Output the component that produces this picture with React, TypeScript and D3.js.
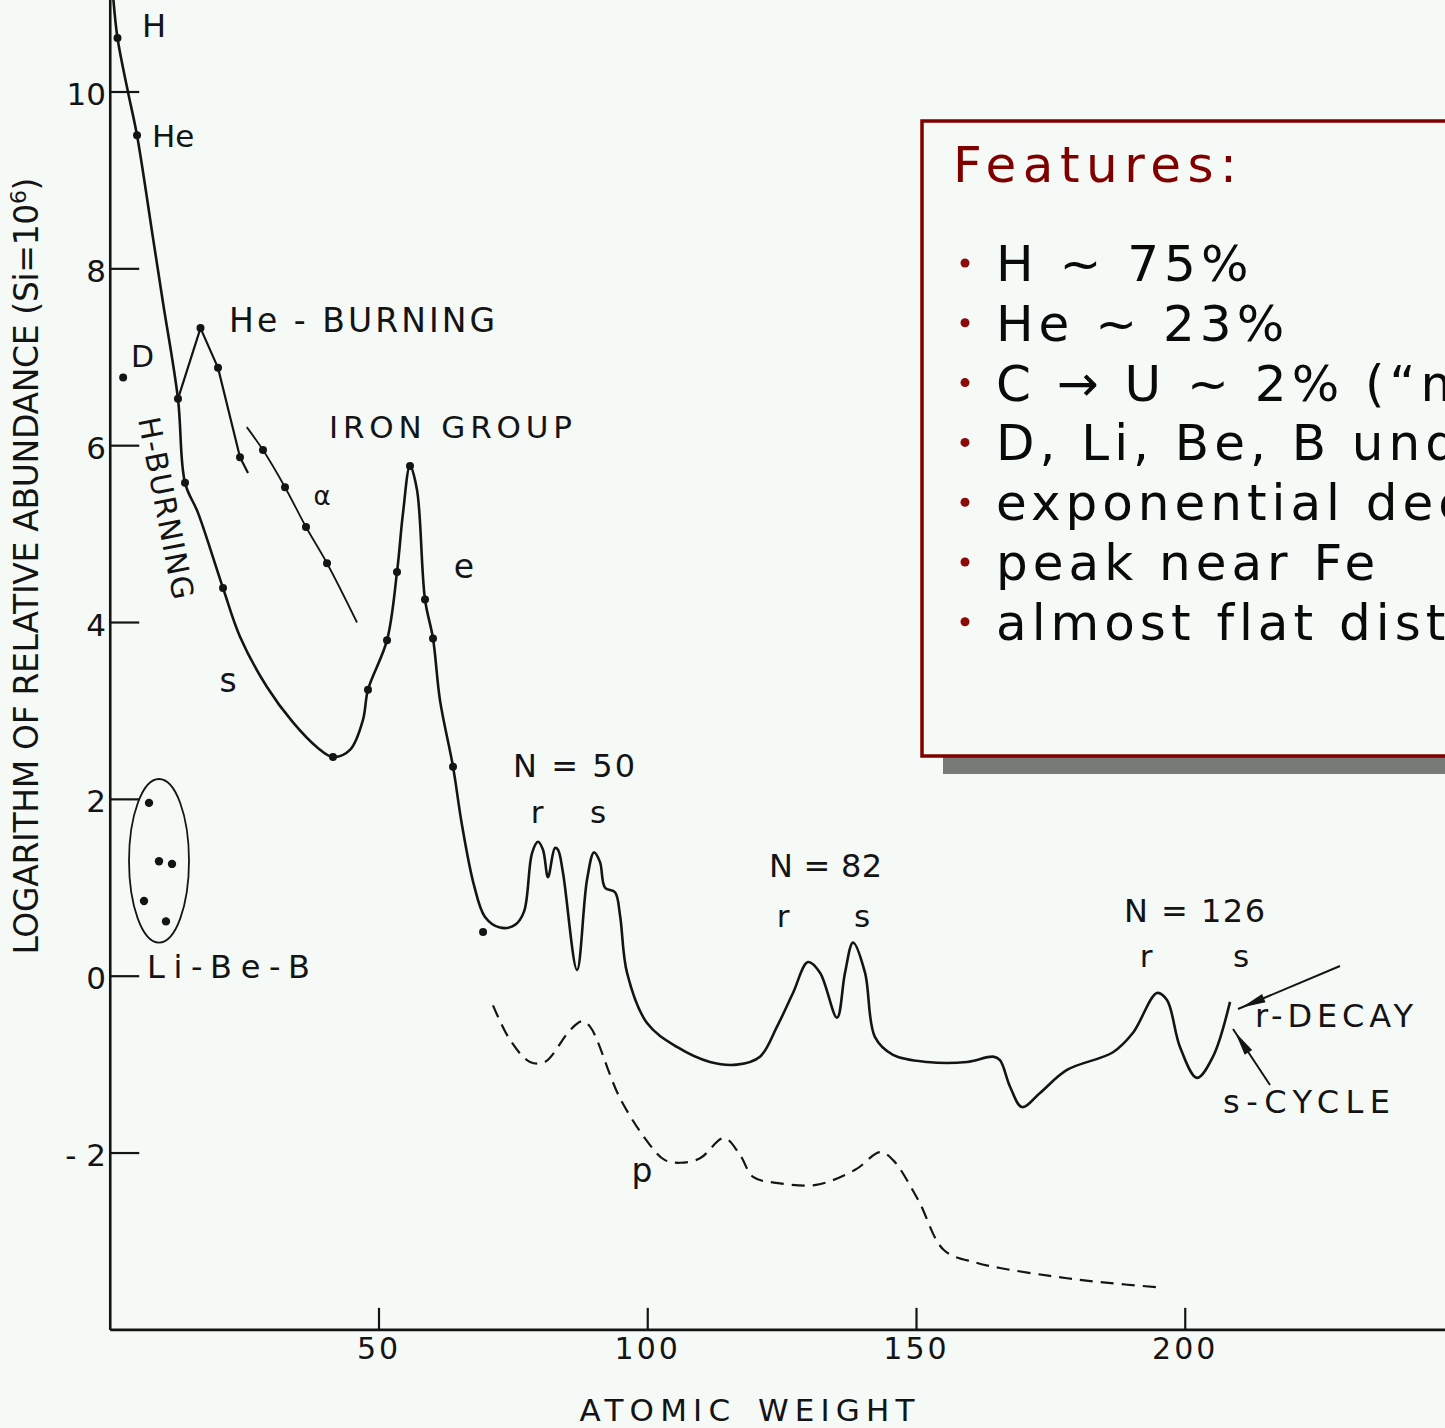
import React from "react";
import * as d3 from "d3";

const WIDTH = 1445;
const HEIGHT = 1428;
const BG = "#f6faf7";
const INK = "#141414";
const BOX_RED = "#800000";
const FONT = "'DejaVu Sans', 'Liberation Sans', sans-serif";

// [atomic weight, log10 abundance (Si = 10^6)]
const mainCurve: [number, number][] = [
  [0.51, 11.1], [1.35, 10.61], [3.3, 10.0], [4.98, 9.51], [7.95, 8.35], [9.81, 7.62],
  [12.6, 6.53], [13.91, 5.58], [16.33, 5.24], [20.98, 4.39], [24.14, 3.84], [29.16, 3.27],
  [34.0, 2.87], [38.47, 2.59], [41.44, 2.48], [44.6, 2.56], [47.02, 2.9], [47.95, 3.24],
  [51.49, 3.8], [53.35, 4.57], [54.47, 5.24], [55.77, 5.77], [57.07, 5.5], [58.56, 4.26],
  [60.05, 3.82], [61.35, 3.12], [63.77, 2.37], [65.44, 1.71], [67.67, 1.03], [69.72, 0.67],
  [72.51, 0.55], [75.3, 0.58], [76.98, 0.73], [78.46, 1.39], [79.58, 1.52], [80.51, 1.43],
  [81.44, 1.12], [82.74, 1.45], [83.3, 1.43], [84.23, 1.17], [86.84, 0.07], [88.7, 1.09],
  [90.0, 1.4], [91.12, 1.29], [92.05, 1.0], [93.91, 0.95], [94.84, 0.69], [96.14, 0.04],
  [99.86, -0.53], [105.44, -0.8], [111.58, -0.97], [116.6, -1.0], [120.88, -0.91],
  [124.05, -0.57], [127.02, -0.19], [129.81, 0.16], [132.05, 0.04], [135.21, -0.47],
  [136.7, 0.04], [138.19, 0.38], [140.42, 0.04], [142.28, -0.69], [145.63, -0.89],
  [151.95, -0.97], [159.4, -0.97], [164.23, -0.91], [165.53, -0.95], [167.4, -1.25],
  [169.63, -1.48], [172.98, -1.32], [178.0, -1.06], [186.56, -0.86], [190.28, -0.64],
  [194.74, -0.19], [196.6, -0.27], [199.02, -0.8], [202.18, -1.15], [205.16, -0.91],
  [208.33, -0.29],
];

const heBurning: [number, number][] = [
  [12.6, 6.53], [16.79, 7.33], [20.05, 6.88], [24.14, 5.87], [25.63, 5.69],
];

const alphaProcess: [number, number][] = [
  [25.4, 6.21], [28.42, 5.95], [32.51, 5.53], [36.42, 5.08], [40.33, 4.67], [45.91, 4.0],
];

const pProcess: [number, number][] = [
  [71.21, -0.33], [74.37, -0.72], [78.09, -0.97], [80.88, -0.97], [85.53, -0.61],
  [87.77, -0.51], [89.26, -0.57], [94.84, -1.38], [100.42, -1.91], [103.21, -2.08],
  [106.0, -2.11], [109.72, -2.06], [114.19, -1.83], [117.16, -2.02], [119.6, -2.27],
  [124.25, -2.34], [131.32, -2.36], [138.58, -2.19], [143.23, -1.99], [145.65, -2.08],
  [150.3, -2.53], [155.14, -3.1], [161.09, -3.24], [165.53, -3.3], [174.84, -3.39],
  [184.14, -3.46], [195.3, -3.52],
];

const measuredPoints: [number, number][] = [
  [1.35, 10.61], [4.98, 9.51], [2.4, 6.77], [12.6, 6.53], [13.91, 5.58], [20.98, 4.39],
  [41.44, 2.48], [47.95, 3.24], [51.49, 3.8], [53.35, 4.57], [55.77, 5.77], [58.56, 4.26],
  [60.05, 3.82], [63.77, 2.37], [69.36, 0.5],
  [16.79, 7.33], [20.05, 6.88], [24.14, 5.87],
  [28.42, 5.95], [32.51, 5.53], [36.42, 5.08], [40.33, 4.67],
];

const liBeB: [number, number][] = [
  [7.21, 1.96], [9.07, 1.3], [11.49, 1.27], [6.28, 0.85], [10.37, 0.62],
];
// extent of the Li-Be-B group outline: [minA, maxA, minLog, maxLog]
const liBeBEnvelope = [3.49, 14.65, 0.38, 2.23];

const yTicks = [-2, 0, 2, 4, 6, 8, 10];
const yTickLabels = ["- 2", "0", "2", "4", "6", "8", "10"];
const xTicks = [50, 100, 150, 200];

const featureTitle = "Features:";
const features = [
  "H ~ 75%",
  "He ~ 23%",
  "C \u2192 U ~ 2% (\u201cmetals\u201d)",
  "D, Li, Be, B underabundant",
  "exponential decrease",
  "peak near Fe",
  "almost flat distribution",
];

type Label = { t: string; x: number; y: number; size: number; len?: number; anchor?: string };
const labels: Label[] = [
  { t: "H", x: 142, y: 37, size: 32 },
  { t: "He", x: 152, y: 147, size: 31 },
  { t: "D", x: 131, y: 367, size: 30 },
  { t: "He - BURNING", x: 229, y: 332, size: 33, len: 266 },
  { t: "IRON GROUP", x: 329, y: 438, size: 31, len: 243 },
  { t: "\u03b1", x: 322, y: 505, size: 26, anchor: "middle" },
  { t: "e", x: 464, y: 578, size: 33, anchor: "middle" },
  { t: "s", x: 228, y: 692, size: 33, anchor: "middle" },
  { t: "N = 50", x: 513, y: 777, size: 32, len: 122 },
  { t: "r", x: 537, y: 823, size: 31, anchor: "middle" },
  { t: "s", x: 598, y: 823, size: 31, anchor: "middle" },
  { t: "N = 82", x: 769, y: 877, size: 32, len: 113 },
  { t: "r", x: 783, y: 927, size: 31, anchor: "middle" },
  { t: "s", x: 862, y: 927, size: 31, anchor: "middle" },
  { t: "N = 126", x: 1124, y: 922, size: 32, len: 141 },
  { t: "r", x: 1146, y: 967, size: 31, anchor: "middle" },
  { t: "s", x: 1241, y: 967, size: 31, anchor: "middle" },
  { t: "r-DECAY", x: 1255, y: 1027, size: 32, len: 158 },
  { t: "s-CYCLE", x: 1223, y: 1113, size: 32, len: 167 },
  { t: "p", x: 642, y: 1182, size: 33, anchor: "middle" },
  { t: "Li-Be-B", x: 147, y: 978, size: 32, len: 163 },
];

const arrows = [
  { from: [1340, 966], to: [1238, 1009] },
  { from: [1270, 1085], to: [1233, 1029] },
];

// 88.42 px per decade; log 0 sits at 976.2 px
const x = d3.scaleLinear().domain([0, 250]).range([110.25, 1454]);
const y = d3.scaleLinear().domain([-4, 11]).range([976.2 + 4 * 88.42, 976.2 - 11 * 88.42]);

const smooth = d3
  .line<[number, number]>()
  .x((d) => x(d[0]))
  .y((d) => y(d[1]))
  .curve(d3.curveCatmullRom.alpha(0.5));

const straight = d3
  .line<[number, number]>()
  .x((d) => x(d[0]))
  .y((d) => y(d[1]));

function arrowHead(from: number[], to: number[]) {
  const dx = to[0] - from[0];
  const dy = to[1] - from[1];
  const L = Math.hypot(dx, dy);
  const ux = dx / L;
  const uy = dy / L;
  const len = 24;
  const hw = 4.5;
  const tip = [to[0] - ux * 4, to[1] - uy * 4];
  const bx = tip[0] - ux * len;
  const by = tip[1] - uy * len;
  return `${tip[0]},${tip[1]} ${bx - uy * hw},${by + ux * hw} ${bx + uy * hw},${by - ux * hw}`;
}

export default function App() {
  const x0 = x(0);
  const yBottom = y(-4);
  const [a0, a1, v0, v1] = liBeBEnvelope;
  const ecx = (x(a0) + x(a1)) / 2;
  const ecy = (y(v0) + y(v1)) / 2;
  const erx = (x(a1) - x(a0)) / 2;
  const ery = (y(v0) - y(v1)) / 2;

  return (
    <svg
      width={WIDTH}
      height={HEIGHT}
      viewBox={`0 0 ${WIDTH} ${HEIGHT}`}
      style={{ position: "absolute", left: 0, top: 0, display: "block" }}
      fontFamily={FONT}
    >
      <rect x={0} y={0} width={WIDTH} height={HEIGHT} fill={BG} />

      {/* axes */}
      <line x1={x0} y1={0} x2={x0} y2={yBottom} stroke={INK} strokeWidth={2.6} />
      <line x1={x0} y1={yBottom} x2={WIDTH} y2={yBottom} stroke={INK} strokeWidth={2.6} />
      {yTicks.map((v, i) => (
        <g key={`yt${v}`}>
          <line x1={x0} x2={x0 + 29} y1={y(v)} y2={y(v)} stroke={INK} strokeWidth={2.2} />
          <text
            x={106}
            y={y(v) + 2}
            textAnchor="end"
            dominantBaseline="central"
            fontSize={31}
            fill={INK}
          >
            {yTickLabels[i]}
          </text>
        </g>
      ))}
      {xTicks.map((t) => (
        <g key={`xt${t}`}>
          <line x1={x(t)} x2={x(t)} y1={yBottom} y2={yBottom - 22} stroke={INK} strokeWidth={2.2} />
          <text x={x(t)} y={1359} textAnchor="middle" fontSize={30} letterSpacing={3} fill={INK}>
            {t}
          </text>
        </g>
      ))}
      <text x={747} y={1421} textAnchor="middle" fontSize={31} textLength={335} lengthAdjust="spacing" fill={INK}>
        {"ATOMIC\u2002WEIGHT"}
      </text>
      <text
        transform="translate(38,566) rotate(-90)"
        textAnchor="middle"
        fontSize={33}
        textLength={777}
        lengthAdjust="spacing"
        fill={INK}
      >
        LOGARITHM OF RELATIVE ABUNDANCE (Si=10
        <tspan dy={-12} fontSize={22}>6</tspan>
        <tspan dy={12}>)</tspan>
      </text>

      {/* abundance curves */}
      <path d={smooth(mainCurve) ?? ""} fill="none" stroke={INK} strokeWidth={2.6} strokeLinejoin="round" />
      <path d={straight(heBurning) ?? ""} fill="none" stroke={INK} strokeWidth={2.2} strokeLinejoin="round" />
      <path d={smooth(alphaProcess) ?? ""} fill="none" stroke={INK} strokeWidth={1.8} />
      <path d={smooth(pProcess) ?? ""} fill="none" stroke={INK} strokeWidth={2.2} strokeDasharray="13 8" />
      {measuredPoints.map((d, i) => (
        <circle key={`m${i}`} cx={x(d[0])} cy={y(d[1])} r={4} fill={INK} />
      ))}
      <ellipse cx={ecx} cy={ecy} rx={erx} ry={ery} fill="none" stroke={INK} strokeWidth={1.8} />
      {liBeB.map((d, i) => (
        <circle key={`l${i}`} cx={x(d[0])} cy={y(d[1])} r={4.2} fill={INK} />
      ))}

      {/* annotations */}
      {labels.map((l, i) => (
        <text
          key={`lb${i}`}
          x={l.x}
          y={l.y}
          fontSize={l.size}
          textAnchor={l.anchor ?? "start"}
          textLength={l.len}
          lengthAdjust={l.len ? "spacing" : undefined}
          fill={INK}
        >
          {l.t}
        </text>
      ))}
      <text
        transform="translate(166,508) rotate(79)"
        textAnchor="middle"
        dominantBaseline="central"
        fontSize={30}
        textLength={185}
        lengthAdjust="spacing"
        fill={INK}
      >
        H-BURNING
      </text>
      {arrows.map((a, i) => (
        <g key={`ar${i}`}>
          <line x1={a.from[0]} y1={a.from[1]} x2={a.to[0]} y2={a.to[1]} stroke={INK} strokeWidth={2} />
          <polygon points={arrowHead(a.from, a.to)} fill={INK} />
        </g>
      ))}

      {/* feature box */}
      <rect x={943} y={139} width={620} height={635} fill="#777a77" />
      <rect x={922} y={121} width={620} height={635} fill={BG} stroke={BOX_RED} strokeWidth={3.5} />
      <text x={953} y={182} fontSize={50} letterSpacing={6.5} fill={BOX_RED}>
        {featureTitle}
      </text>
      {features.map((f, i) => {
        const base = 281 + i * 59.8;
        return (
          <g key={`f${i}`}>
            <circle cx={965} cy={base - 18} r={4.5} fill="#8b0a0a" />
            <text x={996} y={base} fontSize={50} letterSpacing={5} fill="#0a0a0a">
              {f}
            </text>
          </g>
        );
      })}
    </svg>
  );
}
